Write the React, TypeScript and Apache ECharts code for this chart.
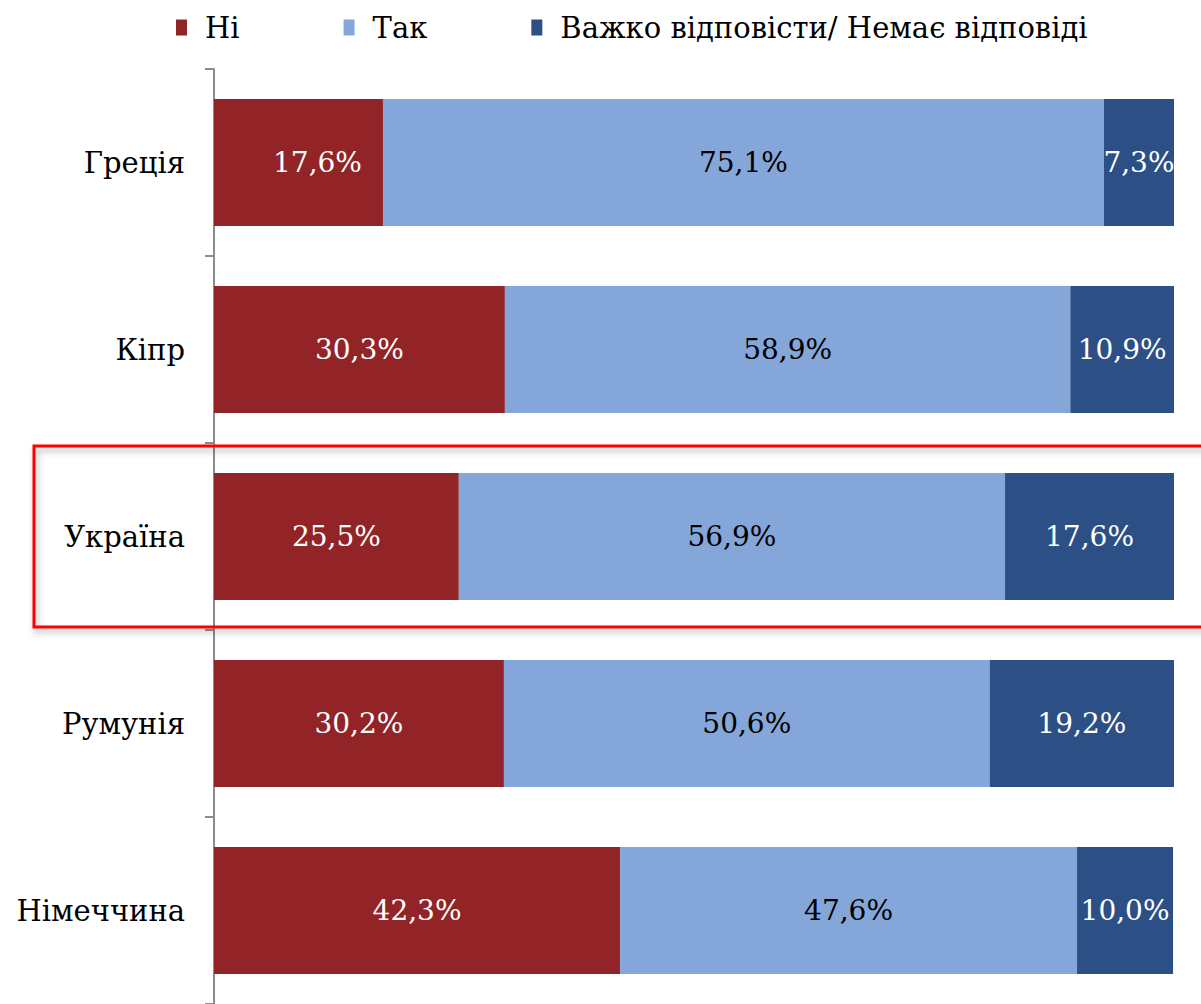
import React, { useEffect, useRef } from "react";
import * as echarts from "echarts";

const categories = ["Греція", "Кіпр", "Україна", "Румунія", "Німеччина"];
const seriesNames = ["Ні", "Так", "Важко відповісти/ Немає відповіді"];
const noValues = [17.6, 30.3, 25.5, 30.2, 42.3];
const yesValues = [75.1, 58.9, 56.9, 50.6, 47.6];
const hardValues = [7.3, 10.9, 17.6, 19.2, 10.0];
const colors = ["#922428", "#84A6D8", "#2C5085"];
const labelColors = ["#ffffff", "#000000", "#ffffff"];

const FONT = "DejaVu Serif";

export default function App() {
  const ref = useRef<HTMLDivElement>(null);
  useEffect(() => {
    document.body.style.margin = "0";
    const chart = echarts.init(ref.current!, null, { renderer: "svg" });
    const data = [noValues, yesValues, hardValues];
    chart.setOption({
      animation: false,
      backgroundColor: "#ffffff",
      textStyle: { fontFamily: FONT },
      legend: {
        top: 13,
        left: 176,
        padding: 0,
        itemWidth: 11,
        itemHeight: 16,
        itemGap: 104,
        icon: "rect",
        textStyle: { fontFamily: FONT, fontSize: 29, color: "#000", padding: [0, 0, 0, 13] },
        data: seriesNames,
      },
      grid: { left: 214, top: 69, width: 960, height: 937.5, containLabel: false },
      xAxis: { type: "value", min: 0, max: 100, show: false },
      yAxis: {
        type: "category",
        inverse: true,
        data: categories,
        axisLine: { show: true, lineStyle: { color: "#8c8c8c", width: 2 } },
        axisTick: { show: true, length: 9, lineStyle: { color: "#8c8c8c", width: 2 } },
        axisLabel: { margin: 29, fontFamily: FONT, fontSize: 29, color: "#000" },
      },
      series: seriesNames.map((name, i) => ({
        name,
        type: "bar",
        stack: "total",
        barWidth: "68%",
        itemStyle: { color: colors[i] },
        label: {
          show: true,
          position: "inside",
          fontFamily: FONT,
          fontSize: 28,
          color: labelColors[i],
          formatter: (p: any) => p.value.toFixed(1).replace(".", ",") + "%",
        },
        data: data[i].map((v, j) =>
          i === 0 && j === 0 ? { value: v, label: { offset: [19, 0] } } : v
        ),
      })),
      graphic: [
        {
          type: "rect",
          shape: { x: 34, y: 446, width: 1200, height: 181 },
          style: {
            fill: "none",
            stroke: "#ff0000",
            lineWidth: 3,
            shadowBlur: 6,
            shadowOffsetX: 2,
            shadowOffsetY: 4,
            shadowColor: "rgba(0,0,0,0.3)",
          },
          z: 100,
        },
      ],
    });
    return () => chart.dispose();
  }, []);
  return <div ref={ref} style={{ width: 1201, height: 1004 }} />;
}
